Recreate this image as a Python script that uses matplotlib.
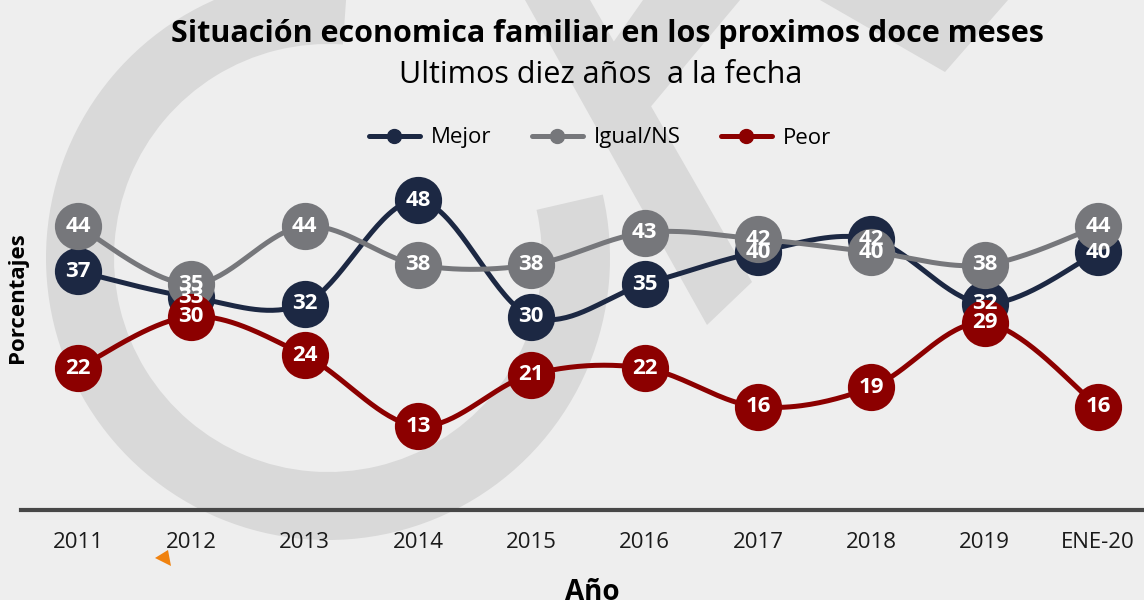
import numpy as np
import matplotlib
matplotlib.use("Agg")
import matplotlib.pyplot as plt
from matplotlib.lines import Line2D
from matplotlib.patches import Wedge, Polygon
from matplotlib.transforms import IdentityTransform

plt.rcParams['font.family'] = ['Open Sans', 'DejaVu Sans']

# data
anios = ['2011', '2012', '2013', '2014', '2015', '2016', '2017', '2018', '2019', 'ENE-20']
mejor = [37, 33, 32, 48, 30, 35, 40, 42, 32, 40]
igual = [44, 35, 44, 38, 38, 43, 42, 40, 38, 44]
peor = [22, 30, 24, 13, 21, 22, 16, 19, 29, 16]

series = [
    ('Mejor', mejor, '#1C2843'),
    ('Igual/NS', igual, '#76777B'),
    ('Peor', peor, '#8C0000'),
]

BG = '#EEEEEE'
W, H = 1144, 600


def smooth(x, y, n=40):
    # catmull-rom style bezier, like the spreadsheet "smoothed line"
    pts = np.column_stack([x, y]).astype(float)
    p = np.vstack([pts[0], pts, pts[-1]])
    t = np.linspace(0, 1, n)[:, None]
    segs = []
    for i in range(1, len(p) - 2):
        p0, p1, p2, p3 = p[i - 1], p[i], p[i + 1], p[i + 2]
        c1 = p1 + (p2 - p0) / 6
        c2 = p2 - (p3 - p1) / 6
        segs.append((1 - t) ** 3 * p1 + 3 * (1 - t) ** 2 * t * c1
                    + 3 * (1 - t) * t ** 2 * c2 + t ** 3 * p2)
    return np.vstack(segs)


def px(pts):
    # top-left pixel coords -> display coords
    return [(a, H - b) for a, b in pts]


fig = plt.figure(figsize=(W / 100, H / 100), dpi=100, facecolor=BG)

# watermark logo in the background
wm = '#D9D9D9'
shapes = [
    Wedge((328, H - 258), 282, 86, 373, width=68),
    Polygon(px([(525, 0), (590, 0), (752, 282), (707, 325)])),
    Polygon(px([(643, 0), (740, 0), (648, 110), (610, 47)])),
    Polygon(px([(820, 0), (1008, 0), (945, 72)])),
]
for s in shapes:
    s.set_facecolor(wm)
    s.set_edgecolor('none')
    s.set_transform(IdentityTransform())
    s.set_zorder(-2)
    fig.patches.append(s)

ax = fig.add_axes([21.3 / W, 1 - 510 / H, 1 - 21.3 / W, 340 / H])
ax.set_facecolor('none')
x = np.arange(len(anios))
ax.set_xlim(-0.5, 9.406)
ax.set_ylim(0, 340 / 6.45)

for z, (name, vals, col) in enumerate(series):
    c = smooth(x, vals)
    ax.plot(c[:, 0], c[:, 1], color=col, lw=3.6, solid_capstyle='round',
            zorder=3 + z, clip_on=False)
    ax.plot(x, vals, 'o', ms=34, color=col, mew=0, zorder=3 + z, clip_on=False)

for name, vals, col in series:
    for xi, v in zip(x, vals):
        ax.text(xi, v, str(v), ha='center', va='center', color='white',
                fontsize=16, fontweight='bold', zorder=10)

for s in ['top', 'right', 'left']:
    ax.spines[s].set_visible(False)
ax.spines['bottom'].set_color('#474747')
ax.spines['bottom'].set_linewidth(3)
ax.set_yticks([])
ax.set_xticks(x)
ax.set_xticklabels(anios, fontsize=16, color='#1a1a1a')
ax.tick_params(axis='x', length=0, pad=16)

handles = [Line2D([], [], color=col, lw=3.6, marker='o', ms=10, solid_capstyle='round')
           for _, _, col in series]
fig.legend(handles, [s[0] for s in series], loc='center', bbox_to_anchor=(600 / W, 1 - 138 / H),
           ncol=3, frameon=False, fontsize=16, handlelength=2.3, handletextpad=0.5,
           columnspacing=1.8)

fig.text(607 / W, 1 - 42 / H, 'Situación economica familiar en los proximos doce meses',
         ha='center', va='baseline', fontsize=22, fontweight='bold', color='black')
fig.text(601 / W, 1 - 83 / H, 'Ultimos diez años  a la fecha',
         ha='center', va='baseline', fontsize=22, color='black')
fig.text(18 / W, 1 - 298 / H, 'Porcentajes', rotation=90, ha='center', va='center',
         fontsize=16, fontweight='bold')
fig.text(592 / W, 1 - 600 / H, 'Año', ha='center', va='baseline',
         fontsize=20, fontweight='bold')

# small orange marker under 2012
fig.patches.append(Polygon(px([(155, 558), (168, 550), (171, 566)]), facecolor='#F0820F',
                           edgecolor='none', transform=IdentityTransform()))

fig.savefig('out.png', dpi=100, facecolor=BG)
